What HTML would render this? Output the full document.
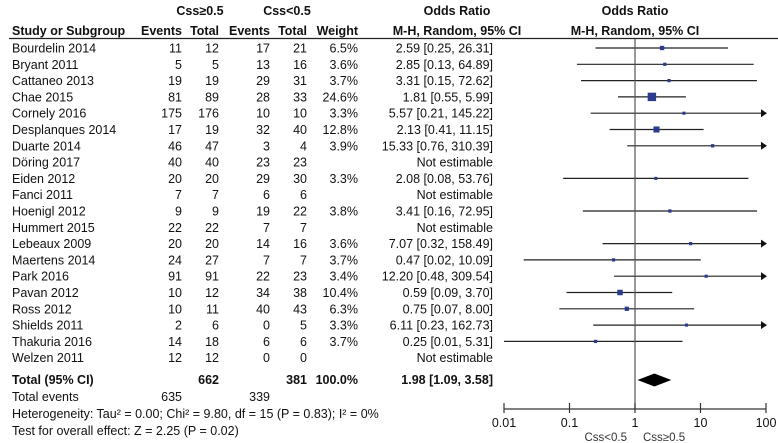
<!DOCTYPE html>
<html><head><meta charset="utf-8"><style>
html,body{margin:0;padding:0;background:#fff;}
svg{display:block;font-family:"Liberation Sans","Noto Sans CJK SC",sans-serif;}
</style></head><body>
<svg id="chart" width="778" height="443" viewBox="0 0 778 443">
<g font-size="12.5" font-weight="bold" fill="#111">
<text x="200" y="15" text-anchor="middle">Css≥0.5</text>
<text x="287" y="15" text-anchor="middle">Css&lt;0.5</text>
<text x="457" y="15" text-anchor="middle">Odds Ratio</text>
<text x="635" y="15" text-anchor="middle">Odds Ratio</text>
<text x="12" y="35">Study or Subgroup</text>
<text x="182" y="35" text-anchor="end">Events</text>
<text x="219" y="35" text-anchor="end">Total</text>
<text x="270" y="35" text-anchor="end">Events</text>
<text x="307" y="35" text-anchor="end">Total</text>
<text x="358" y="35" text-anchor="end">Weight</text>
<text x="457" y="35" text-anchor="middle">M-H, Random, 95% CI</text>
<text x="635" y="35" text-anchor="middle">M-H, Random, 95% CI</text>
</g>
<line x1="9" y1="38.5" x2="778" y2="38.5" stroke="#222" stroke-width="1.2"/>
<g id="rows" font-size="12.5" fill="#111"></g>
<g id="plot"></g>
<g font-size="12.5" fill="#111">
<text x="12" y="384" font-weight="bold">Total (95% CI)</text>
<text x="219" y="384" text-anchor="end" font-weight="bold">662</text>
<text x="307" y="384" text-anchor="end" font-weight="bold">381</text>
<text x="358" y="384" text-anchor="end" font-weight="bold">100.0%</text>
<text x="493" y="384" text-anchor="end" font-weight="bold">1.98 [1.09, 3.58]</text>
<text x="12" y="401">Total events</text>
<text x="182" y="401" text-anchor="end">635</text>
<text x="270" y="401" text-anchor="end">339</text>
<text x="12" y="418">Heterogeneity: Tau² = 0.00; Chi² = 9.80, df = 15 (P = 0.83); I² = 0%</text>
<text x="12" y="435">Test for overall effect: Z = 2.25 (P = 0.02)</text>
</g>
</svg>
<script>
const studies=["Bourdelin 2014","Bryant 2011","Cattaneo 2013","Chae 2015","Cornely 2016","Desplanques 2014","Duarte 2014","Döring 2017","Eiden 2012","Fanci 2011","Hoenigl 2012","Hummert 2015","Lebeaux 2009","Maertens 2014","Park 2016","Pavan 2012","Ross 2012","Shields 2011","Thakuria 2016","Welzen 2011"];
const events1=[11,5,19,81,175,17,46,40,20,7,9,22,20,24,91,10,10,2,14,12];
const totals1=[12,5,19,89,176,19,47,40,20,7,9,22,20,27,91,12,11,6,18,12];
const events2=[17,13,29,28,10,32,3,23,29,6,19,7,14,7,22,34,40,0,6,0];
const totals2=[21,16,31,33,10,40,4,23,30,6,22,7,16,7,23,38,43,5,6,0];
const weights=[6.5,3.6,3.7,24.6,3.3,12.8,3.9,null,3.3,null,3.8,null,3.6,3.7,3.4,10.4,6.3,3.3,3.7,null];
const orv=[2.59,2.85,3.31,1.81,5.57,2.13,15.33,null,2.08,null,3.41,null,7.07,0.47,12.20,0.59,0.75,6.11,0.25,null];
const lo=[0.25,0.13,0.15,0.55,0.21,0.41,0.76,null,0.08,null,0.16,null,0.32,0.02,0.48,0.09,0.07,0.23,0.01,null];
const hi=[26.31,64.89,72.62,5.99,145.22,11.15,310.39,null,53.76,null,72.95,null,158.49,10.09,309.54,3.70,8.00,162.73,5.31,null];
const pooled=[1.98,1.09,3.58];
const ticks=[0.01,0.1,1,10,100];
const tickLabels=["0.01","0.1","1","10","100"];

const NS="http://www.w3.org/2000/svg";
const x0=504,x1=766;
function xs(v){return x0+(Math.log10(v)+2)/4*(x1-x0);}
function ys(i){return 48+16.3*i;}
function mk(tag,attrs,parent,txt){const e=document.createElementNS(NS,tag);for(const k in attrs)e.setAttribute(k,attrs[k]);if(txt!==undefined)e.textContent=txt;parent.appendChild(e);return e;}
const rows=document.getElementById('rows'),plot=document.getElementById('plot');
function fmt(v){return v.toFixed(2);}
studies.forEach((s,i)=>{
  const y=ys(i)+4.5;
  const g=mk('g',{},rows);
  
  
  mk('text',{x:12,y:y},g,s);
  mk('text',{x:182,y:y,'text-anchor':'end'},g,events1[i]);
  mk('text',{x:219,y:y,'text-anchor':'end'},g,totals1[i]);
  mk('text',{x:270,y:y,'text-anchor':'end'},g,events2[i]);
  mk('text',{x:307,y:y,'text-anchor':'end'},g,totals2[i]);
  if(weights[i]!==null)mk('text',{x:358,y:y,'text-anchor':'end'},g,weights[i].toFixed(1)+'%');
  mk('text',{x:493,y:y,'text-anchor':'end'},g,orv[i]===null?'Not estimable':fmt(orv[i])+' ['+fmt(lo[i])+', '+fmt(hi[i])+']');
  if(orv[i]!==null){
    const cy=ys(i);
    const a=Math.max(x0,xs(lo[i])),b=Math.min(x1,xs(hi[i]));
    const l=mk('line',{x1:a,y1:cy,x2:b,y2:cy,stroke:'#222','stroke-width':1.2},plot);
    
    
    if(hi[i]>100){
      const ar=mk('polygon',{points:(x1+1)+','+cy+' '+(x1-5)+','+(cy-4)+' '+(x1-5)+','+(cy+4),fill:'#111'},plot);
      
      
    }
    const sz=Math.max(3,Math.sqrt(weights[i])*1.7);
    const sq=mk('rect',{x:xs(orv[i])-sz/2,y:cy-sz/2,width:sz,height:sz,fill:'#2b3c8f'},plot);
    
    
  }
});
const vl=mk('line',{x1:xs(1),y1:39,x2:xs(1),y2:409,stroke:'#555','stroke-width':1.2},plot);


const dy=380;
const dm=mk('polygon',{points:xs(pooled[1])+','+dy+' '+xs(pooled[0])+','+(dy-6.5)+' '+xs(pooled[2])+','+dy+' '+xs(pooled[0])+','+(dy+6.5),fill:'#000'},plot);


const ax=mk('line',{x1:x0,y1:409,x2:x1,y2:409,stroke:'#333','stroke-width':1.2},plot);


ticks.forEach((t,k)=>{
  const tk=mk('line',{x1:xs(t),y1:403,x2:xs(t),y2:413,stroke:'#333','stroke-width':1.2},plot);
  
  
  const tl=mk('text',{x:xs(t),y:427,'text-anchor':'middle','font-size':'12.5',fill:'#111'},plot,tickLabels[k]);
  
  
});
const f1=mk('text',{x:627,y:441,'text-anchor':'end','font-size':'11.5',fill:'#333'},plot,'Css<0.5');


const f2=mk('text',{x:643,y:441,'font-size':'11.5',fill:'#333'},plot,'Css≥0.5');


</script>
</body></html>
